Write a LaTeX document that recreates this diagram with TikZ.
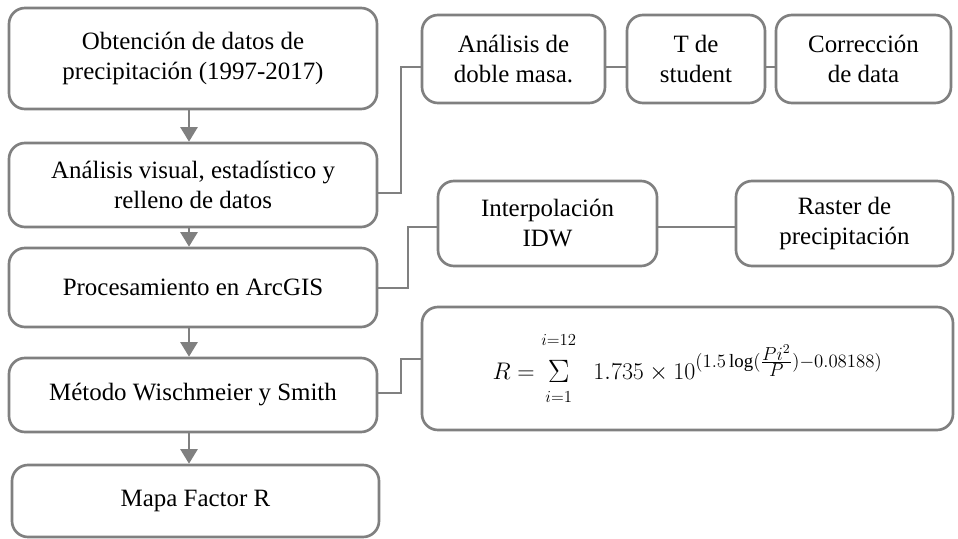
\RequirePackage{fix-cm}
\documentclass[tikz,border=0pt]{standalone}
\usepackage{graphicx}
\usepackage{fontspec}
\setmainfont{Liberation Serif}
\usetikzlibrary{arrows.meta}
\definecolor{edge}{HTML}{808080}
\tikzset{
  box/.style={draw=edge, line width=2pt, rounded corners=12pt, align=center, inner sep=2pt,
    font=\fontsize{18.7}{22.5}\selectfont, text=black, fill=white},
  conn/.style={draw=edge, line width=1.5pt},
  arr/.style={draw=edge, line width=1.5pt, -{Triangle[width=13pt,length=11pt]}, color=edge}
}
\begin{document}
\begin{tikzpicture}[x=0.75pt,y=-0.75pt]
\useasboundingbox (0,0) rectangle (958,539);
% left column
\node[box, minimum width=276pt, minimum height=75.75pt] (n1) at (193,58.5) {Obtención de datos de\\precipitación (1997-2017)};
\node[box, minimum width=276pt, minimum height=63pt] (n2) at (193,185) {Análisis visual, estadístico y\\relleno de datos};
\node[box, minimum width=276pt, minimum height=59.25pt] (n3) at (193,287.5) {Procesamiento en ArcGIS};
\node[box, minimum width=276pt, minimum height=55.5pt] (n4) at (193,395) {Método Wischmeier y Smith};
\node[box, minimum width=275.25pt, minimum height=54pt] (n5) at (195.5,501) {Mapa Factor R};
% top row
\node[box, minimum width=137.25pt, minimum height=66pt] (a) at (513.5,59) {Análisis de\\doble masa.};
\node[box, minimum width=103.5pt, minimum height=66pt] (b) at (696,59) {T de\\student};
\node[box, minimum width=131.25pt, minimum height=66pt] (c) at (863.5,59) {Corrección\\de data};
% middle row
\node[box, minimum width=164.25pt, minimum height=63.75pt] (ip) at (547.5,223.5) {Interpolación\\IDW};
\node[box, minimum width=162.75pt, minimum height=63.75pt] (ra) at (844.5,223.5) {Raster de\\precipitación};
% formula
\node[box, minimum width=398.25pt, minimum height=92.25pt, font=\fontsize{18}{21}\selectfont] (f) at (687.5,368.5)
  {$R=\mathop{\raisebox{-2.5pt}{\scalebox{1.35}{$\Sigma$}}}\limits^{\raisebox{9pt}{$\scriptstyle i=12$}}_{\raisebox{-9pt}{$\scriptstyle i=1$}}\;\;1.735\times 10^{\scalebox{1.12}{$\scriptstyle(1.5\log(\frac{\scriptstyle Pi^{2}}{\scriptstyle P})-0.08188)$}}$};
% arrows
\draw[arr] ([xshift=-3pt]n1.south) -- ([xshift=-3pt]n2.north);
\draw[arr] ([xshift=-3pt]n2.south) -- ([xshift=-3pt]n3.north);
\draw[arr] ([xshift=-3pt]n3.south) -- ([xshift=-3pt]n4.north);
\draw[arr] ([xshift=-3pt]n4.south) -- ([xshift=-3pt]n4.south |- n5.north);
% connectors
\draw[conn] ([yshift=-6pt]n2.east) -- ++(23,0) |- ([yshift=-6pt]a.west);
\draw[conn] ([yshift=-6pt]a.east) -- ([yshift=-6pt]b.west);
\draw[conn] ([yshift=-6pt]b.east) -- ([yshift=-6pt]c.west);
\draw[conn] (n3.east) -- ++(30,0) |- ([yshift=-2.5pt]ip.west);
\draw[conn] ([yshift=-2.5pt]ip.east) -- ([yshift=-2.5pt]ra.west);
\draw[conn] ([yshift=1.5pt]n4.east) -- ++(23,0) |- ([yshift=7pt]f.west);
\end{tikzpicture}
\end{document}
